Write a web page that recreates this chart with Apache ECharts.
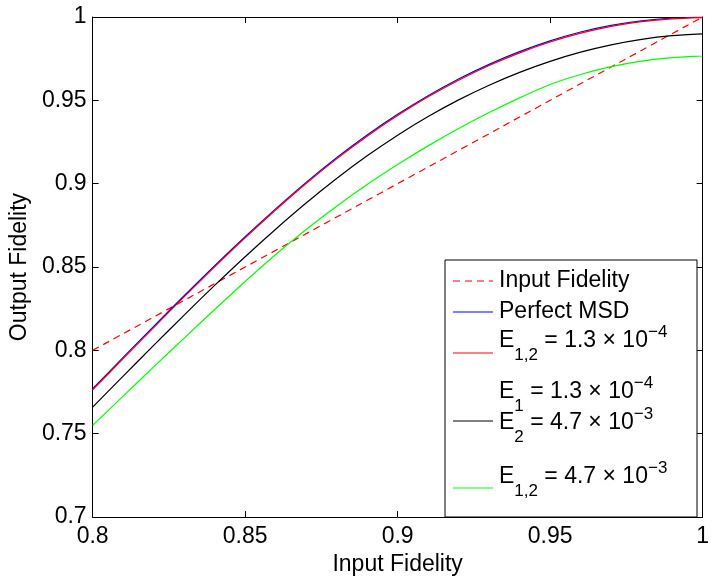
<!DOCTYPE html>
<html>
<head>
<meta charset="utf-8">
<script src="https://cdn.jsdelivr.net/npm/echarts@6/dist/echarts.min.js"></script>
<style>
    html, body { margin: 0; padding: 0; background: #fff; }
    #chart { width: 712px; height: 581px; }
</style>
</head>
<body>
<div id="chart"></div>
<script>
// input fidelity (x) grid
var inputFid = [0.80, 0.81, 0.82, 0.83, 0.84, 0.85, 0.86, 0.87, 0.88, 0.89, 0.90,
                0.91, 0.92, 0.93, 0.94, 0.95, 0.96, 0.97, 0.98, 0.99, 1.00];

// output fidelity curves
var perfectMsd = [0.7770, 0.7958, 0.8144, 0.8328, 0.8508, 0.8682, 0.8849, 0.9008, 0.9156, 0.9292, 0.9416,
                  0.9528, 0.9628, 0.9716, 0.9792, 0.9857, 0.9910, 0.9950, 0.9977, 0.9993, 1.0000];
var e12Low = [0.7763, 0.7951, 0.8137, 0.8321, 0.8501, 0.8675, 0.8842, 0.9001, 0.9149, 0.9285, 0.9409,
              0.9521, 0.9621, 0.9709, 0.9785, 0.9850, 0.9903, 0.9944, 0.9972, 0.9989, 0.9996];
var e1e2 = [0.7660, 0.7846, 0.8030, 0.8212, 0.8390, 0.8562, 0.8727, 0.8884, 0.9031, 0.9167, 0.9291,
            0.9403, 0.9503, 0.9591, 0.9668, 0.9734, 0.9789, 0.9833, 0.9866, 0.9888, 0.9899];
var e12High = [0.7550, 0.7726, 0.7901, 0.8074, 0.8245, 0.8413, 0.8575, 0.8725, 0.8865, 0.8995, 0.9115,
               0.9227, 0.9331, 0.9427, 0.9515, 0.9595, 0.9655, 0.9702, 0.9735, 0.9756, 0.9767];

// reference line F_out = F_in
var diagX = [0.8, 1.0];
var diagY = [0.8, 1.0];

var xTicks = [0.8, 0.85, 0.9, 0.95, 1];
var yTicks = [0.7, 0.75, 0.8, 0.85, 0.9, 0.95, 1];

var FONT = '"Liberation Sans", Arial, Helvetica, sans-serif';
var FS = 23;

var zip = function (xs, ys) {
    var out = [];
    for (var i = 0; i < xs.length; i++) {
        out.push([xs[i], ys[i]]);
    }
    return out;
};

var tickFmt = function (v) {
    return String(+v.toFixed(2));
};

var lineSeries = function (name, ys, color, xs, dashed) {
    return {
        name: name,
        type: 'line',
        data: zip(xs || inputFid, ys),
        showSymbol: false,
        smooth: 0.25,
        animation: false,
        lineStyle: { color: color, width: 1.2, type: dashed ? [7, 5] : 'solid' }
    };
};

var axisCommon = function (pos, ticks, showLabel) {
    return {
        type: 'value',
        position: pos,
        min: ticks[0],
        max: ticks[ticks.length - 1],
        interval: 0.05,
        axisLine: { show: true, onZero: false, lineStyle: { color: '#000', width: 1 } },
        axisTick: { show: true, inside: true, length: 6, lineStyle: { color: '#000' } },
        splitLine: { show: false },
        axisLabel: {
            show: showLabel,
            formatter: tickFmt,
            color: '#000',
            fontFamily: FONT,
            fontSize: FS
        }
    };
};

var xBottom = axisCommon('bottom', xTicks, true);
xBottom.axisLabel.margin = 8;
xBottom.name = 'Input Fidelity';
xBottom.nameLocation = 'middle';
xBottom.nameGap = 30;
xBottom.nameTextStyle = { color: '#000', fontFamily: FONT, fontSize: FS };

var yLeft = axisCommon('left', yTicks, true);
yLeft.axisLabel.margin = 6;
yLeft.name = 'Output Fidelity';
yLeft.nameLocation = 'middle';
yLeft.nameGap = 55;
yLeft.nameTextStyle = { color: '#000', fontFamily: FONT, fontSize: FS };

// legend box drawn by hand (two-line entry + sub/superscripts)
var LX = 445, LY = 260, LW = 252, LH = 257;
var sx1 = 453, sx2 = 493, tx = 499;
var rich = {
    m: { fontSize: FS, fontFamily: FONT, color: '#000' },
    sub: { fontSize: 17, fontFamily: FONT, color: '#000', padding: [28, 0, 0, 0] },
    sup: { fontSize: 17, fontFamily: FONT, color: '#000', padding: [0, 0, 18, 0] }
};

var sample = function (y, color, dashed) {
    return {
        type: 'line', z: 101,
        shape: { x1: sx1, y1: y, x2: sx2, y2: y },
        style: { stroke: color, lineWidth: 1.2, lineDash: dashed ? [7, 5] : null }
    };
};
var label = function (y, text) {
    return {
        type: 'text', z: 101, x: tx, y: y,
        style: { text: text, rich: rich, verticalAlign: 'middle', align: 'left', font: FS + 'px ' + FONT, fill: '#000' }
    };
};

var legendItems = [
    {
        type: 'rect', z: 100,
        shape: { x: LX, y: LY, width: LW, height: LH },
        style: { fill: '#fff', stroke: '#000', lineWidth: 1 }
    },
    sample(281, '#ff0000', true),
    label(281, '{m|Input Fidelity}'),
    sample(312, '#0000ff'),
    label(312, '{m|Perfect MSD}'),
    sample(353, '#ff0000'),
    label(341, '{m|E}{sub|1,2}{m| = 1.3 × 10}{sup|−4}'),
    sample(421, '#000000'),
    label(392, '{m|E}{sub|1}{m| = 1.3 × 10}{sup|−4}'),
    label(423, '{m|E}{sub|2}{m| = 4.7 × 10}{sup|−3}'),
    sample(488, '#00ff00'),
    label(477, '{m|E}{sub|1,2}{m| = 4.7 × 10}{sup|−3}')
];

var chart = echarts.init(document.getElementById('chart'), null, { renderer: 'canvas' });

var option = {
    backgroundColor: '#fff',
    animation: false,
    grid: { left: 92, right: 4, top: 17, bottom: 55, containLabel: false },
    xAxis: [xBottom, axisCommon('top', xTicks, false)],
    yAxis: [yLeft, axisCommon('right', yTicks, false)],
    series: [
        lineSeries('Input Fidelity', diagY, '#ff0000', diagX, true),
        lineSeries('Perfect MSD', perfectMsd, '#0000ff'),
        lineSeries('E12 1.3e-4', e12Low, '#ff0000'),
        lineSeries('E1 1.3e-4 E2 4.7e-3', e1e2, '#000000'),
        lineSeries('E12 4.7e-3', e12High, '#00ff00')
    ],
    graphic: legendItems
};

chart.setOption(option);
</script>
</body>
</html>
